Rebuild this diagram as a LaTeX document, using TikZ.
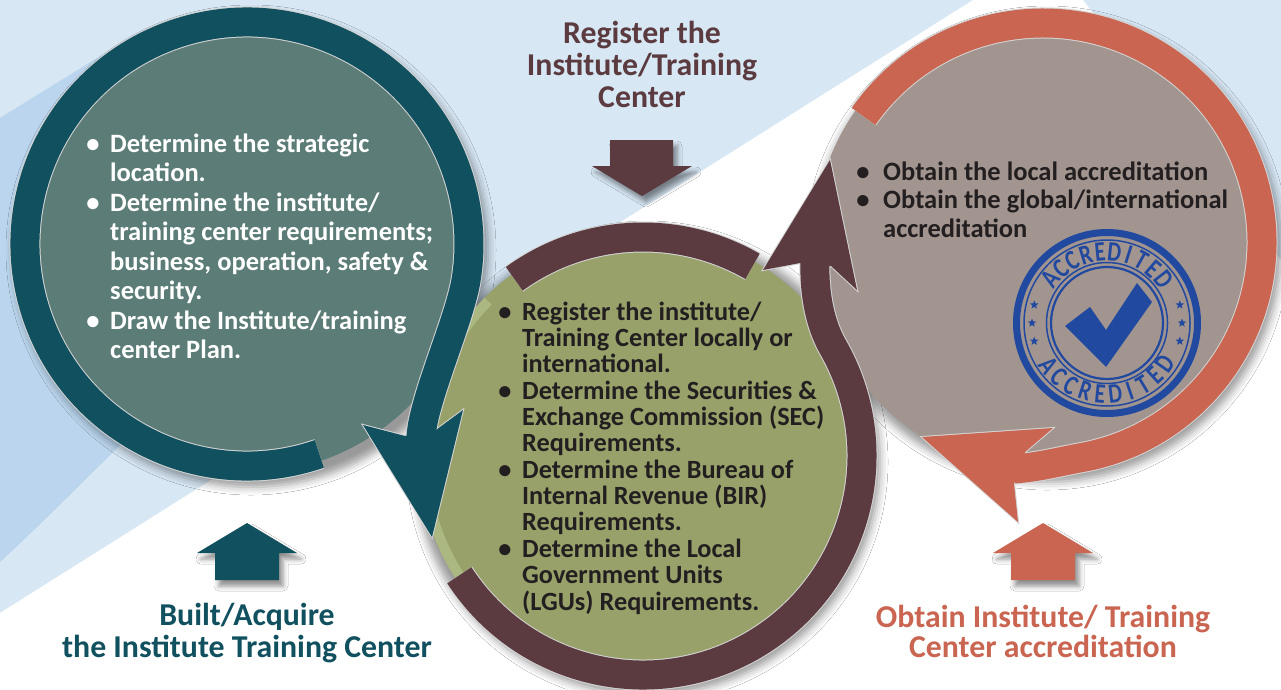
\documentclass[tikz,border=0pt]{standalone}
\usepackage{fontspec}
\usepackage{graphicx}
\setmainfont{Carlito}
\usetikzlibrary{shadows.blur,shapes.geometric,calc}
\definecolor{tealring}{HTML}{11505F}
\definecolor{tealfill}{HTML}{5B7C77}
\definecolor{brownring}{HTML}{5B3B40}
\definecolor{greenfill}{HTML}{98A169}
\definecolor{greenlight}{HTML}{BCCB95}
\definecolor{orangering}{HTML}{C96550}
\definecolor{greyfill}{HTML}{A2958F}
\definecolor{stampblue}{HTML}{2249A0}
\definecolor{darktext}{HTML}{231F20}
\definecolor{bglight}{HTML}{D7E7F4}
\definecolor{bgmid}{HTML}{BAD5ED}
\definecolor{edgecol}{HTML}{D4D4D4}
\begin{document}
\begin{tikzpicture}[x=1pt,y=1pt,
  linetext/.style={anchor=base west, inner sep=0pt},
  bulletdot/.style={anchor=base, inner sep=0pt},
  tealfont/.style={font=\bfseries\fontsize{26.5}{30}\selectfont, text=white},
  greenfont/.style={font=\bfseries\fontsize{26.3}{28}\selectfont, text=darktext},
  greyfont/.style={font=\bfseries\fontsize{26.5}{30}\selectfont, text=darktext},
  titlefont/.style={anchor=base, inner sep=0pt, font=\bfseries\fontsize{31.8}{34}\selectfont},
  ringedge/.style={line width=31pt, draw=edgecol},
  ringbody/.style={line width=29pt},
  softshadow/.style={blur shadow={shadow xshift=4pt, shadow yshift=-6pt, shadow blur radius=8pt, shadow opacity=40}},
  blockshadow/.style={blur shadow={shadow xshift=4pt, shadow yshift=-6pt, shadow blur radius=5pt, shadow opacity=45}},
  stampletter/.style={inner sep=0pt, text=stampblue, font=\bfseries\fontsize{28}{28}\selectfont},
  stampstar/.style={star, star points=5, star point ratio=2.3, fill=stampblue, inner sep=0pt, minimum size=9pt},
]
\useasboundingbox (0,0) rectangle (1281,-689);
% background
\fill[bglight] (0,0) rectangle (1281,-689);
\fill[bgmid] (0,-118) -- (110,-50) -- (250,-244) -- (120,-445) .. controls (80,-485) and (40,-525) .. (0,-562) -- cycle;
\fill[white] (0,-613) -- (973,0) -- (1083,0) -- (1281,-260) -- (1281,-689) -- (0,-689) -- cycle;

% centres
\coordinate (tc) at (247,-244);
\coordinate (gc) at (643,-456);
\coordinate (oc) at (1043,-242);

% shadows
\path[softshadow] (tc) circle (237);
\path[softshadow] (gc) circle (233);
\path[softshadow] (oc) circle (234);

% discs
\fill[tealfill] (tc) circle (229);
\fill[greenfill] (gc) circle (224);
\begin{scope}
  \clip (gc) circle (224);
  \draw[greenlight, line width=10pt, opacity=0.55] ($(gc)+(-225:219)$) arc[start angle=-225, end angle=-125, radius=219];
\end{scope}
\fill[greyfill] (oc) circle (229);

% ring paths
\def\tealpath{($(tc)+(-71:222)$) arc[start angle=-71, end angle=-369.3, radius=222] .. controls (459.6,-320) and (423,-400) .. (421,-437)}
\def\browntop{($(gc)+(-234:219)$) arc[start angle=-234, end angle=-300, radius=219]}
\def\brownpath{($(gc)+(-147:219)$) arc[start angle=-147, end angle=30, radius=219] .. controls (820.5,-325) and (814,-295) .. (815,-262)}
\def\orangepath{($(oc)+(-215:219)$) arc[start angle=-215, end angle=-440, radius=219] .. controls (1061.3,-461.2) and (1040,-467) .. (1014,-469)}

% teal ring + head
\draw[ringedge] \tealpath;
\fill[tealring, preaction={draw=edgecol, line width=2pt}] (405,-436) -- (363,-425) -- (432,-537) -- (463,-410) -- (436,-430) -- cycle;
\draw[ringbody, tealring] \tealpath;

% brown rings + head
\draw[ringedge] \browntop;
\draw[ringbody, brownring] \browntop;
\draw[ringedge] \brownpath;
\fill[brownring, preaction={draw=edgecol, line width=2pt}] (800,-263) -- (763,-270) -- (830,-160) -- (857,-290) -- (831,-266) -- cycle;
\draw[ringbody, brownring] \brownpath;

% orange ring + head
\draw[ringedge] \orangepath;
\fill[orangering, preaction={draw=edgecol, line width=2pt}] (1025,-452) -- (1053,-428) -- (922,-437) -- (1018,-522) -- (1014,-484) -- cycle;
\draw[ringbody, orangering] \orangepath;

% block arrows
\fill[brownring, blockshadow] (610,-140) -- (673,-140) -- (673,-166) -- (692,-166) -- (642,-196) -- (592,-166) -- (610,-166) -- cycle;
\fill[tealring, blockshadow] (215,-580) -- (279,-580) -- (279,-553) -- (297,-553) -- (247,-523) -- (197,-553) -- (215,-553) -- cycle;
\fill[orangering, blockshadow] (1011,-580) -- (1075,-580) -- (1075,-553) -- (1093,-553) -- (1043,-523) -- (993,-553) -- (1011,-553) -- cycle;

% titles
\node[titlefont, text=brownring] (reg1) at (642,-43) {Register the};
\node[titlefont, text=brownring] (reg2) at (642,-75) {Institute/Training};
\node[titlefont, text=brownring] (reg3) at (642,-107) {Center};
\node[titlefont, text=tealring] (bui1) at (247,-625) {Built/Acquire};
\node[titlefont, text=tealring] (bui2) at (247,-657) {the Institute Training Center};
\node[titlefont, text=orangering] (obt1) at (1043,-627) {Obtain Institute/ Training};
\node[titlefont, text=orangering] (obt2) at (1043,-657) {Center accreditation};

% teal text
\node[bulletdot, tealfont] (tb1) at (93,-152) {•};
\node[bulletdot, tealfont] (tb2) at (93,-211) {•};
\node[bulletdot, tealfont] (tb3) at (93,-329) {•};
\node[linetext, tealfont] (tl1) at (110,-152) {Determine the strategic};
\node[linetext, tealfont] (tl2) at (110,-181.5) {location.};
\node[linetext, tealfont] (tl3) at (110,-211) {Determine the institute/};
\node[linetext, tealfont] (tl4) at (110,-240.5) {training center requirements;};
\node[linetext, tealfont] (tl5) at (110,-270) {business, operation, safety \&};
\node[linetext, tealfont] (tl6) at (110,-299.5) {security.};
\node[linetext, tealfont] (tl7) at (110,-329) {Draw the Institute/training};
\node[linetext, tealfont] (tl8) at (110,-358.5) {center Plan.};

% green text
\node[bulletdot, greenfont] (gb1) at (505,-320) {•};
\node[bulletdot, greenfont] (gb2) at (505,-399.1) {•};
\node[bulletdot, greenfont] (gb3) at (505,-478.2) {•};
\node[bulletdot, greenfont] (gb4) at (505,-557.2) {•};
\node[linetext, greenfont] (gl1) at (522,-320) {Register the institute/};
\node[linetext, greenfont] (gl2) at (522,-346.4) {Training Center locally or};
\node[linetext, greenfont] (gl3) at (522,-372.7) {international.};
\node[linetext, greenfont] (gl4) at (522,-399.1) {Determine the Securities \&};
\node[linetext, greenfont] (gl5) at (522,-425.4) {Exchange Commission (SEC)};
\node[linetext, greenfont] (gl6) at (522,-451.8) {Requirements.};
\node[linetext, greenfont] (gl7) at (522,-478.2) {Determine the Bureau of};
\node[linetext, greenfont] (gl8) at (522,-504.5) {Internal Revenue (BIR)};
\node[linetext, greenfont] (gl9) at (522,-530.9) {Requirements.};
\node[linetext, greenfont] (gl10) at (522,-557.2) {Determine the Local};
\node[linetext, greenfont] (gl11) at (522,-583.6) {Government Units};
\node[linetext, greenfont] (gl12) at (522,-610) {(LGUs) Requirements.};

% grey text
\node[bulletdot, greyfont] (ob1) at (863,-180) {•};
\node[bulletdot, greyfont] (ob2) at (863,-208.5) {•};
\node[linetext, greyfont] (ol1) at (883,-180) {Obtain the local accreditation};
\node[linetext, greyfont] (ol2) at (883,-208.5) {Obtain the global/international};
\node[linetext, greyfont] (ol3) at (883,-237) {accreditation};

% stamp
\coordinate (sc) at (1107,-323);
\draw[stampblue, line width=7pt] (sc) circle (90.5);
\draw[stampblue, line width=1.5pt] (sc) circle (83);
\draw[stampblue, line width=1.5pt] (sc) circle (60.5);
\draw[stampblue, line width=2.2pt] (sc) circle (56);
\foreach \ch [count=\i] in {A,C,C,R,E,D,I,T,E,D} {
  \pgfmathsetmacro\ang{142-(\i-1)*11.6}
  \node[stampletter, rotate=\ang-90] (st\i) at ($(sc)+(\ang:71.5)$) {\scalebox{0.78}[1]{\ch}};
}
\foreach \ch [count=\i] in {A,C,C,R,E,D,I,T,E,D} {
  \pgfmathsetmacro\ang{-144+(\i-1)*12.1}
  \node[stampletter, rotate=\ang+90] (sb\i) at ($(sc)+(\ang:71.5)$) {\scalebox{0.78}[1]{\ch}};
}
\foreach \a [count=\i] in {166,180,194,14,0,-14} {
  \node[stampstar] (star\i) at ($(sc)+(\a:75)$) {};
}
\fill[stampblue] (1065,-326) -- (1090,-307) -- (1106,-330) -- (1137,-283) -- (1152,-302) -- (1106,-367) -- cycle;
\end{tikzpicture}
\end{document}
